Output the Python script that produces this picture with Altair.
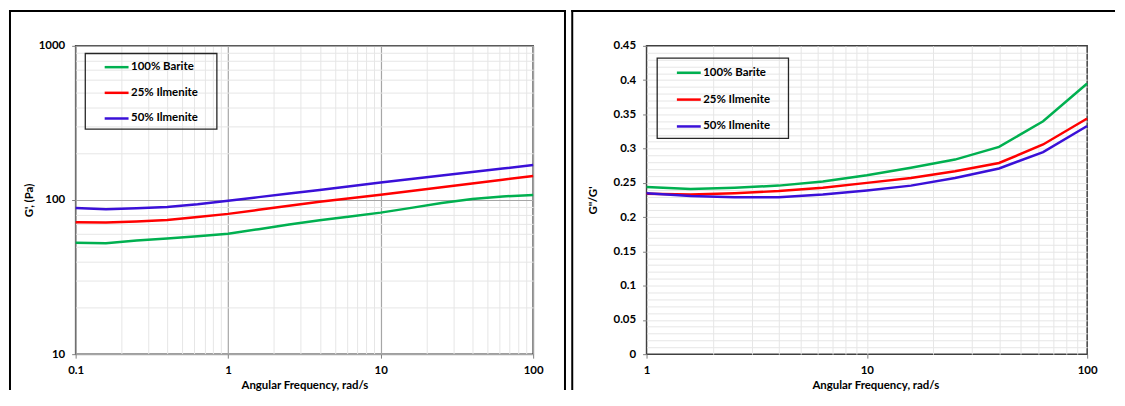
import altair as alt
import pandas as pd

series = ["100% Barite", "25% Ilmenite", "50% Ilmenite"]
colors = ["#00b050", "#ff0000", "#3a10d8"]

# Left panel: G' (Pa) vs angular frequency (rad/s)
freq_g = [0.1, 0.158, 0.251, 0.398, 0.631, 1.0, 1.585, 2.512, 3.981, 6.31,
          10.0, 15.85, 25.12, 39.81, 63.1, 100.0]
g_barite = [52.9, 52.5, 54.6, 56.3, 58.2, 60.4, 64.7, 69.4, 74.0, 78.2,
            82.8, 88.9, 95.5, 101.5, 105.5, 107.7]
g_ilm25 = [71.8, 71.4, 72.5, 74.3, 77.5, 81.3, 86.4, 91.9, 97.3, 102.5,
           108.2, 114.4, 121.0, 128.0, 135.4, 143.3]
g_ilm50 = [88.6, 87.0, 88.3, 90.0, 93.8, 99.0, 104.4, 110.1, 116.0, 122.7,
           129.8, 136.8, 144.2, 152.0, 160.1, 168.4]

# Right panel: G''/G' vs angular frequency (rad/s)
freq_r = [1.0, 1.585, 2.512, 3.981, 6.31, 10.0, 15.85, 25.12, 39.81, 63.1, 100.0]
r_barite = [0.244, 0.241, 0.243, 0.246, 0.252, 0.261, 0.272, 0.284, 0.3025, 0.340, 0.395]
r_ilm25 = [0.234, 0.233, 0.235, 0.238, 0.243, 0.250, 0.257, 0.267, 0.279, 0.306, 0.344]
r_ilm50 = [0.235, 0.231, 0.229, 0.229, 0.233, 0.239, 0.246, 0.257, 0.271, 0.295, 0.333]

# axis tick / grid positions
left_x_major = [0.1, 1, 10, 100]
left_x_minor = [0.2, 0.3, 0.4, 0.5, 0.6, 0.7, 0.8, 0.9,
                2, 3, 4, 5, 6, 7, 8, 9, 20, 30, 40, 50, 60, 70, 80, 90]
left_y_major = [10, 100, 1000]
left_y_minor = [20, 30, 40, 50, 60, 70, 80, 90, 200, 300, 400, 500, 600, 700, 800, 900]
right_x_major = [1, 10, 100]
right_x_minor = [2, 3, 4, 5, 6, 7, 8, 9, 10, 20, 30, 40, 50, 60, 70, 80, 90]
right_y_major = [0, 0.05, 0.1, 0.15, 0.2, 0.25, 0.3, 0.35, 0.4, 0.45]
right_y_minor = [round(i * 0.01, 2) for i in range(1, 45)]


def long_df(freq, cols):
    rows = []
    for name, vals in zip(series, cols):
        for f, v in zip(freq, vals):
            rows.append({"freq": f, "val": v, "series": name})
    return pd.DataFrame(rows)


df_left = long_df(freq_g, [g_barite, g_ilm25, g_ilm50])
df_right = long_df(freq_r, [r_barite, r_ilm25, r_ilm50])

MINOR = "#e6e6e6"
MAJOR = "#a6a6a6"
FONT = "Lato"


def legend(lx, ly, rowpad, symoff):
    return alt.Legend(
        orient="none", legendX=lx, legendY=ly, title=None,
        padding=0, rowPadding=rowpad,
        symbolType="stroke", symbolSize=576, symbolStrokeWidth=2.5,
        symbolOffset=symoff, labelOffset=1, labelLimit=300,
        labelFont=FONT, labelFontSize=11.5, labelFontWeight="bold",
        labelColor="black",
    )


def one():
    return alt.Chart(alt.Data(values=[{"k": 0}]))


def frame_v(x, y, y2):
    return one().mark_rule(color="black", strokeWidth=2, strokeCap="square").encode(
        x=alt.value(x), y=alt.value(y), y2=alt.value(y2))


def frame_h(x, x2, y):
    return one().mark_rule(color="black", strokeWidth=2, strokeCap="square").encode(
        x=alt.value(x), x2=alt.value(x2), y=alt.value(y))


def legend_box(x, x2, y, y2):
    return one().mark_rect(fillOpacity=0, stroke="#262626", strokeWidth=1.3).encode(
        x=alt.value(x), x2=alt.value(x2), y=alt.value(y), y2=alt.value(y2))


def panel(df, xscale, yscale, xmaj, xmin, ymaj, ymin, xgrid_major, ygrid_major,
          ytitle, ytitle_pad, leg, extras, width, height, xtitle_x=None):
    xaxis_kwargs = dict(
        orient="bottom", values=xmaj, format="~g", grid=xgrid_major,
        gridColor=MAJOR, gridWidth=1.2, domain=False, ticks=True, tickSize=4,
        tickColor="#7f7f7f", labelPadding=6, labelFlush=False, labelOverlap=False,
        title="Angular Frequency, rad/s", titlePadding=4,
    )
    if xtitle_x is not None:
        xaxis_kwargs["titleX"] = xtitle_x
    minor = alt.Chart(df).mark_line(opacity=0).encode(
        x=alt.X("freq:Q", scale=xscale,
                axis=alt.Axis(orient="top", values=xmin, grid=True, gridColor=MINOR,
                              labels=False, ticks=False, domain=False, title=None)),
        y=alt.Y("val:Q", scale=yscale,
                axis=alt.Axis(orient="right", values=ymin, grid=True, gridColor=MINOR,
                              labels=False, ticks=False, domain=False, title=None)),
        detail="series:N",
    )
    lines = alt.Chart(df).mark_line(strokeWidth=2.5).encode(
        x=alt.X("freq:Q", scale=xscale, axis=alt.Axis(**xaxis_kwargs)),
        y=alt.Y("val:Q", scale=yscale,
                axis=alt.Axis(orient="left", values=ymaj, format="~g", grid=ygrid_major,
                              gridColor=MAJOR, gridWidth=1.2, domain=False, ticks=True,
                              tickSize=4, tickColor="#7f7f7f", labelPadding=7,
                              labelFlush=False, labelOverlap=False,
                              title=ytitle, titlePadding=ytitle_pad)),
        color=alt.Color("series:N", scale=alt.Scale(domain=series, range=colors),
                        legend=leg),
    )
    return alt.layer(minor, lines, *extras).resolve_axis(
        x="independent", y="independent"
    ).properties(width=width, height=height)


left = panel(
    df_left,
    alt.Scale(type="log", domain=[0.1, 100], nice=False),
    alt.Scale(type="log", domain=[10, 1000], nice=False),
    left_x_major, left_x_minor, left_y_major, left_y_minor, True, True,
    "G', (Pa)", 4,
    legend(9.7, 7.95, 6.8, 18),
    [legend_box(9.7, 142, 7.7, 83.7),
     frame_v(-66, -35, 345), frame_v(492, -35, 345), frame_h(-66, 492, -35)],
    460, 310,
)

right = panel(
    df_right,
    alt.Scale(type="log", domain=[1, 100], nice=False),
    alt.Scale(type="linear", domain=[0, 0.45], nice=False, zero=True),
    right_x_major, right_x_minor, right_y_major, right_y_minor, False, False,
    'G"/G\'', 14.7,
    legend(10.7, 13.55, 8, 18.3),
    [legend_box(10.7, 142.7, 12.3, 93),
     frame_v(-74.7, -35, 345), frame_h(-74.7, 470, -35)],
    443, 310, xtitle_x=230,
)

chart = alt.hconcat(left, right, spacing=2).resolve_scale(
    color="independent"
).properties(
    padding={"left": -1, "top": -1, "right": 0, "bottom": 0}
).configure_view(
    stroke="#404040", strokeWidth=1.5
).configure_axis(
    labelFont=FONT, labelFontSize=11.5, labelFontWeight="bold", labelColor="black",
    titleFont=FONT, titleFontSize=11.5, titleFontWeight="bold", titleColor="black",
)

chart.save("out.html", embed_options={"renderer": "svg", "actions": False})
